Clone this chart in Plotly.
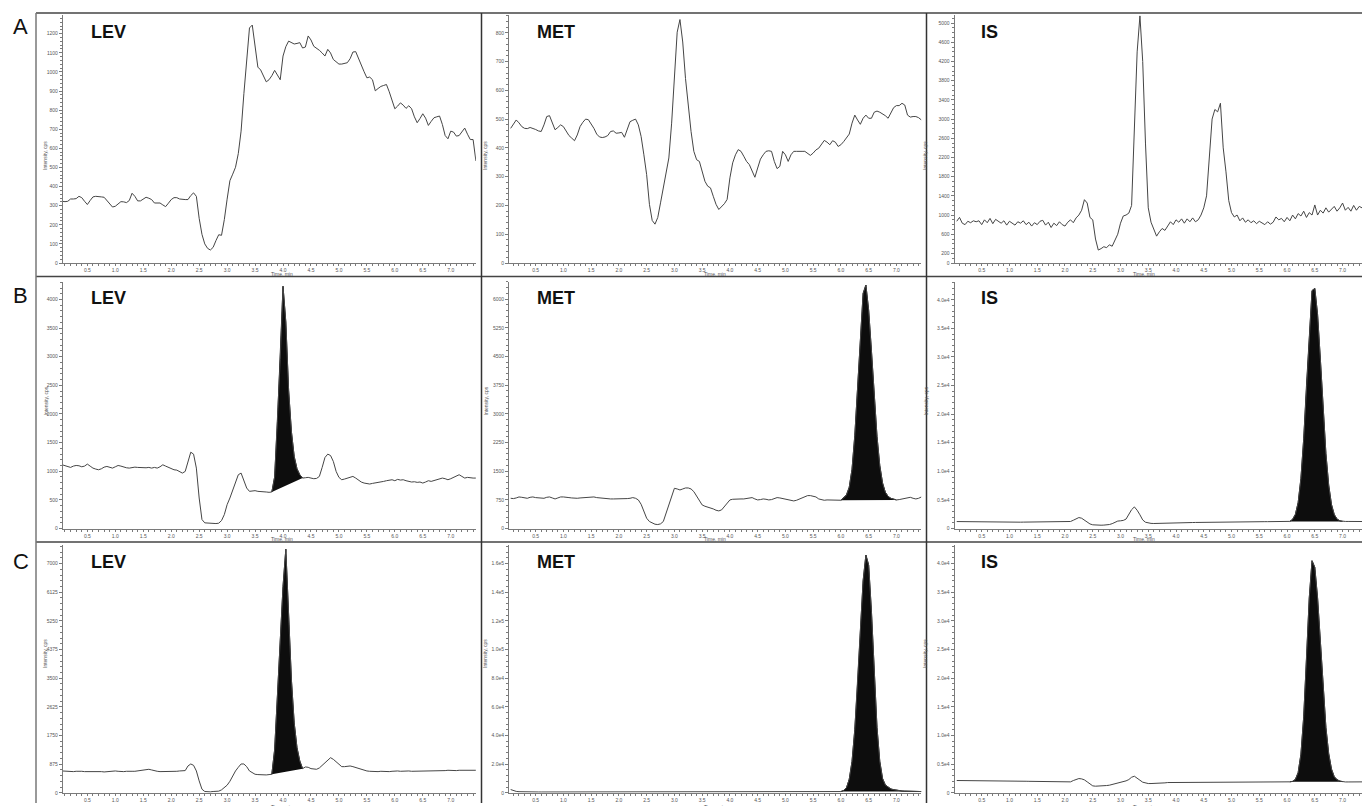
import plotly.graph_objects as go

W, H = 1362, 806

# sampling times (min)
TIME = [round(0.05 * i, 2) for i in range(1, 150)]

# ---------------- Row A (blank) ----------------
A_LEV = [323, 321, 323, 335, 335, 337, 349, 342, 323, 306,
         327, 346, 349, 346, 346, 344, 327, 309, 293, 297,
         309, 321, 320, 316, 327, 365, 349, 325, 325, 335,
         344, 339, 332, 314, 313, 314, 304, 295, 313, 332,
         342, 342, 335, 332, 332, 332, 353, 367, 349, 234,
         150, 100, 77, 68, 82, 117, 148, 145, 227, 334,
         431, 465, 501, 573, 690, 886, 1081, 1230, 1245, 1118,
         1025, 1010, 978, 948, 959, 980, 1008, 985, 959, 1083,
         1132, 1161, 1153, 1146, 1149, 1153, 1125, 1130, 1188, 1167,
         1134, 1125, 1113, 1099, 1083, 1118, 1099, 1065, 1053, 1041,
         1041, 1044, 1048, 1069, 1104, 1106, 1069, 1034, 1001, 969,
         973, 959, 901, 913, 924, 929, 934, 896, 852, 807,
         821, 838, 826, 809, 823, 807, 765, 734, 756, 781,
         758, 720, 741, 760, 765, 769, 725, 667, 650, 690,
         685, 664, 667, 688, 706, 674, 646, 646, 534]

A_MET = [468, 482, 497, 487, 474, 468, 467, 471, 468, 464,
         459, 457, 480, 509, 512, 486, 463, 471, 480, 474,
         459, 443, 434, 425, 445, 474, 489, 500, 498, 484,
         468, 448, 438, 436, 438, 443, 457, 459, 451, 452,
         454, 437, 463, 491, 496, 500, 480, 440, 376, 307,
         204, 148, 135, 158, 209, 261, 319, 365, 486, 664,
         802, 846, 768, 641, 543, 457, 388, 359, 353, 319,
         284, 267, 261, 232, 204, 186, 197, 206, 221, 296,
         348, 376, 394, 388, 371, 353, 342, 319, 298, 330,
         361, 376, 388, 390, 388, 353, 328, 336, 388, 376,
         353, 376, 388, 388, 387, 388, 388, 382, 374, 382,
         393, 399, 413, 426, 420, 411, 425, 420, 405, 411,
         422, 436, 448, 486, 514, 497, 482, 503, 514, 503,
         503, 524, 528, 524, 519, 512, 503, 520, 540, 547,
         547, 555, 549, 514, 507, 509, 509, 505, 497]

A_IS = [870, 950, 830, 800, 870, 840, 880, 860, 880, 800,
        900, 840, 930, 820, 910, 860, 830, 880, 790, 870,
        820, 790, 860, 830, 880, 800, 850, 770, 840, 800,
        870, 890, 790, 850, 740, 830, 780, 860, 800, 770,
        850, 900, 840, 940, 1000, 1100, 1320, 1250, 950, 900,
        500, 270, 300, 340, 320, 380, 350, 460, 600, 830,
        980, 1000, 1040, 1200, 2800, 4400, 5150, 4200, 2500, 1150,
        850, 700, 560, 650, 720, 680, 760, 860, 800, 900,
        850, 920, 830, 920, 860, 940, 860, 900, 1000, 1150,
        1400, 2300, 3000, 3200, 3150, 3330, 2400, 1900, 1300, 1050,
        960, 1000, 880, 940, 850, 900, 840, 880, 820, 870,
        840, 800, 860, 810, 850, 960, 900, 930, 860, 950,
        880, 1000, 920, 1030, 980, 1080, 950, 1050, 1000, 1210,
        1000, 1100, 1040, 1150, 1060, 1120, 1180, 1080, 1150, 1250,
        1100, 1160, 1080, 1200, 1100, 1180, 1150, 1150, 1150]

# ---------------- Row B ----------------
B_LEV = [1113, 1096, 1078, 1067, 1090, 1101, 1096, 1078, 1090, 1125,
         1090, 1055, 1038, 1026, 1043, 1072, 1084, 1067, 1055, 1078,
         1101, 1090, 1072, 1061, 1055, 1067, 1072, 1067, 1061, 1055,
         1061, 1067, 1055, 1067, 1055, 1078, 1113, 1090, 1067, 1055,
         1026, 1020, 997, 968, 997, 1171, 1333, 1299, 1055, 533,
         157, 99, 93, 87, 81, 87, 93, 139, 243, 417,
         533, 678, 823, 939, 968, 835, 707, 649, 661, 661,
         649, 649, 643, 638, 632, 638, 900, 1867, 2950, 4230,
         3606, 2417, 1693, 1258, 1043, 939, 881, 887, 893, 881,
         870, 875, 910, 1067, 1240, 1299, 1275, 1171, 997, 893,
         852, 864, 881, 904, 910, 881, 846, 812, 794, 783,
         777, 788, 794, 806, 817, 823, 835, 846, 852, 835,
         858, 846, 852, 835, 823, 812, 817, 806, 812, 794,
         812, 835, 823, 835, 852, 864, 881, 870, 852, 870,
         893, 928, 939, 910, 881, 893, 881, 881, 881]

B_MET = [791, 783, 800, 826, 817, 800, 791, 817, 826, 809,
         800, 791, 791, 817, 826, 800, 774, 800, 826, 826,
         826, 809, 800, 791, 791, 800, 809, 809, 809, 817,
         826, 809, 800, 791, 783, 774, 774, 774, 774, 774,
         765, 765, 783, 791, 809, 791, 748, 635, 443, 270,
         183, 139, 113, 104, 122, 183, 400, 617, 861, 1052,
         1035, 1009, 1035, 1061, 1061, 1035, 965, 843, 704, 617,
         583, 565, 539, 513, 478, 461, 487, 574, 687, 748,
         765, 774, 774, 774, 774, 783, 800, 809, 774, 748,
         757, 774, 765, 748, 757, 791, 809, 800, 783, 765,
         757, 739, 722, 739, 765, 800, 835, 861, 861, 852,
         826, 774, 748, 739, 748, 748, 748, 748, 739, 740,
         800, 880, 1080, 1550, 2430, 3740, 5180, 6150, 6370, 5710,
         4650, 3460, 2410, 1650, 1190, 950, 840, 790, 760, 748,
         757, 774, 783, 800, 817, 791, 774, 791, 826]

B_IS = [1220, 1210, 1200, 1190, 1190, 1180, 1180, 1170, 1170, 1160,
        1160, 1150, 1150, 1140, 1140, 1130, 1130, 1120, 1110, 1100,
        1100, 1100, 1110, 1110, 1120, 1120, 1130, 1130, 1140, 1140,
        1150, 1150, 1160, 1160, 1170, 1170, 1180, 1180, 1190, 1200,
        1210, 1230, 1450, 1750, 1920, 1800, 1450, 1050, 800, 650,
        600, 580, 580, 600, 620, 700, 850, 1150, 1300, 1350,
        1420, 1650, 2450, 3300, 3780, 3200, 2400, 1500, 1100, 950,
        900, 880, 900, 920, 940, 950, 960, 970, 980, 990,
        1000, 1010, 1020, 1030, 1040, 1050, 1060, 1070, 1080, 1090,
        1100, 1100, 1110, 1110, 1120, 1120, 1130, 1130, 1140, 1140,
        1150, 1150, 1160, 1160, 1170, 1170, 1180, 1180, 1190, 1190,
        1200, 1200, 1200, 1210, 1210, 1210, 1220, 1220, 1220, 1230,
        1250, 1600, 2470, 4530, 8760, 15700, 25000, 34600, 41600, 42000,
        37400, 29600, 20800, 13100, 7600, 4200, 2450, 1650, 1350, 1250,
        1240, 1240, 1230, 1230, 1230, 1220, 1220, 1220, 1220]

# ---------------- Row C ----------------
C_LEV = [668, 658, 648, 638, 648, 658, 668, 658, 648, 648,
         658, 668, 668, 658, 648, 638, 648, 658, 668, 668,
         658, 648, 648, 658, 668, 658, 658, 668, 679, 689,
         709, 719, 699, 668, 658, 648, 648, 638, 638, 648,
         658, 658, 668, 668, 679, 820, 881, 840, 668, 365,
         111, 41, 30, 30, 41, 41, 51, 91, 172, 233,
         354, 516, 668, 780, 881, 881, 800, 668, 608, 567,
         557, 547, 537, 547, 557, 567, 1316, 2967, 4618, 6300,
         7440, 5378, 3453, 2137, 1377, 972, 739, 790, 780, 739,
         719, 719, 760, 840, 942, 1023, 1073, 1023, 942, 861,
         800, 800, 810, 820, 800, 770, 739, 709, 689, 668,
         658, 648, 638, 648, 658, 648, 638, 648, 658, 668,
         668, 658, 668, 679, 668, 658, 658, 668, 679, 668,
         658, 668, 679, 668, 668, 679, 668, 679, 689, 679,
         668, 679, 689, 689, 689, 689, 689, 689, 689]

C_MET = [2300, 1600, 1000, 800, 700, 650, 620, 600, 600, 600,
         600, 590, 590, 600, 600, 590, 590, 600, 600, 590,
         590, 600, 600, 590, 590, 600, 600, 590, 590, 600,
         600, 600, 590, 590, 600, 600, 610, 610, 600, 600,
         600, 610, 610, 620, 620, 610, 600, 580, 560, 540,
         530, 520, 520, 530, 540, 560, 580, 600, 610, 620,
         630, 640, 630, 620, 610, 600, 590, 580, 580, 580,
         580, 580, 580, 580, 590, 590, 590, 590, 600, 600,
         600, 600, 600, 600, 600, 600, 600, 600, 600, 600,
         600, 600, 600, 600, 600, 600, 610, 610, 610, 610,
         610, 610, 610, 610, 610, 610, 610, 610, 600, 600,
         600, 600, 610, 620, 620, 630, 640, 650, 680, 900,
         1700, 3500, 9500, 21900, 44100, 76400, 114000, 148000, 166000, 159000,
         126600, 83500, 45600, 22000, 10000, 5500, 3800, 2700, 2200, 1800,
         1500, 1300, 1200, 1100, 1000, 1000, 900, 900, 900]

C_IS = [2150, 2150, 2140, 2140, 2130, 2130, 2120, 2120, 2110, 2110,
        2100, 2100, 2090, 2090, 2080, 2080, 2070, 2070, 2060, 2060,
        2050, 2050, 2040, 2040, 2030, 2020, 2010, 2000, 1990, 1980,
        1970, 1960, 1950, 1940, 1930, 1920, 1920, 1910, 1910, 1910,
        1910, 1913, 2145, 2377, 2493, 2435, 2261, 1913, 1507, 1217,
        1159, 1159, 1217, 1217, 1275, 1333, 1449, 1565, 1681, 1797,
        1913, 2087, 2319, 2725, 2899, 2609, 2203, 1855, 1681, 1623,
        1623, 1623, 1681, 1681, 1739, 1739, 1797, 1797, 1810, 1820,
        1830, 1840, 1850, 1850, 1855, 1855, 1855, 1855, 1855, 1850,
        1850, 1850, 1845, 1845, 1840, 1840, 1840, 1840, 1840, 1840,
        1840, 1840, 1840, 1845, 1845, 1850, 1850, 1850, 1855, 1855,
        1855, 1860, 1860, 1860, 1865, 1865, 1870, 1870, 1880, 1900,
        1920, 2000, 2340, 3530, 6740, 13300, 23300, 34000, 40500, 39350,
        34000, 26200, 18100, 11400, 6850, 4150, 2810, 2300, 2050, 1950,
        1900, 1900, 1900, 1910, 1910, 1920, 1920, 1920, 1920]

# integration windows (min) of the shaded peaks
FILL_WINDOWS = {
    "B_LEV": (3.80, 4.35), "B_MET": (6.00, 7.00), "B_IS": (6.05, 7.00),
    "C_LEV": (3.80, 4.35), "C_MET": (6.00, 7.45), "C_IS": (6.05, 7.00),
}

# tick labels
X_TICKS = [0.5, 1.0, 1.5, 2.0, 2.5, 3.0, 3.5, 4.0, 4.5, 5.0, 5.5, 6.0, 6.5, 7.0]
X_TICKTEXT = ["0.5", "1.0", "1.5", "2.0", "2.5", "3.0", "3.5", "4.0", "4.5",
              "5.0", "5.5", "6.0", "6.5", "7.0"]
A_LEV_TICKS = [0, 100, 200, 300, 400, 500, 600, 700, 800, 900, 1000, 1100, 1200]
A_MET_TICKS = [0, 100, 200, 300, 400, 500, 600, 700, 800]
A_IS_TICKS = [0, 200, 600, 1000, 1400, 1800, 2200, 2600, 3000, 3400, 3800, 4200, 4600, 5000]
B_LEV_TICKS = [0, 500, 1000, 1500, 2000, 2500, 3000, 3500, 4000]
B_MET_TICKS = [0, 750, 1500, 2250, 3000, 3750, 4500, 5250, 6000]
IS_TICKS = [0, 5000, 10000, 15000, 20000, 25000, 30000, 35000, 40000]
IS_TICKTEXT = ["0", "0.5e4", "1.0e4", "1.5e4", "2.0e4", "2.5e4", "3.0e4", "3.5e4", "4.0e4"]
C_LEV_TICKS = [0, 875, 1750, 2625, 3500, 4375, 5250, 6125, 7000]
C_MET_TICKS = [0, 20000, 40000, 60000, 80000, 100000, 120000, 140000, 160000]
C_MET_TICKTEXT = ["0", "2.0e4", "4.0e4", "6.0e4", "8.0e4", "1.0e5", "1.2e5", "1.4e5", "1.6e5"]

ROW_LETTERS = ["A", "B", "C"]
ANALYTES = ["LEV", "MET", "IS"]

# ---------------- layout geometry (pixels) ----------------
def px_x(x):
    return x / W

def px_y(y):
    return 1 - y / H

col_dom = [(62.75, 475.9), (509.0, 921.4), (954.5, 1362.0)]
col_xrange = [(0.06, 7.45), (0.02, 7.45), (0.01, 7.35)]
row_dom = [(15.0, 264.0), (282.7, 530.5), (547.3, 795.8)]

panels = [
    # row, col, key, data, ymax, tickvals, ticktext, minor dtick
    (0, 0, "A_LEV", A_LEV, 1298, A_LEV_TICKS, [str(v) for v in A_LEV_TICKS], 20),
    (0, 1, "A_MET", A_MET, 862, A_MET_TICKS, [str(v) for v in A_MET_TICKS], 20),
    (0, 2, "A_IS", A_IS, 5170, A_IS_TICKS, [str(v) for v in A_IS_TICKS], 100),
    (1, 0, "B_LEV", B_LEV, 4311, B_LEV_TICKS, [str(v) for v in B_LEV_TICKS], 100),
    (1, 1, "B_MET", B_MET, 6458, B_MET_TICKS, [str(v) for v in B_MET_TICKS], 150),
    (1, 2, "B_IS", B_IS, 43170, IS_TICKS, IS_TICKTEXT, 1000),
    (2, 0, "C_LEV", C_LEV, 7560, C_LEV_TICKS, [str(v) for v in C_LEV_TICKS], 175),
    (2, 1, "C_MET", C_MET, 172800, C_MET_TICKS, C_MET_TICKTEXT, 4000),
    (2, 2, "C_IS", C_IS, 43200, IS_TICKS, IS_TICKTEXT, 1000),
]

AX_COLOR = "#7a7a7a"
LBL_COLOR = "#555555"
TRACE_COLOR = "#454545"
FONT = "Liberation Sans, Arial, sans-serif"

fig = go.Figure()
layout = {}
annotations = []

for k, (r, c, key, data, ymax, tv, tt, mdt) in enumerate(panels, start=1):
    n = min(len(TIME), len(data))
    xs, ys = TIME[:n], data[:n]
    xa = "x" if k == 1 else f"x{k}"
    ya = "y" if k == 1 else f"y{k}"
    if key in FILL_WINDOWS:
        t0, t1 = FILL_WINDOWS[key]
        idx = [i for i in range(n) if t0 - 1e-9 <= xs[i] <= t1 + 1e-9]
        fig.add_trace(go.Scatter(
            x=[xs[i] for i in idx], y=[ys[i] for i in idx],
            mode="lines", fill="toself", fillcolor="#0d0d0d",
            line=dict(color="#0d0d0d", width=1), xaxis=xa, yaxis=ya,
            hoverinfo="skip"))
    fig.add_trace(go.Scatter(
        x=xs, y=ys, mode="lines", line=dict(color=TRACE_COLOR, width=1),
        xaxis=xa, yaxis=ya, hoverinfo="skip"))

    xd = col_dom[c]
    yd = row_dom[r]
    common = dict(
        showline=True, linecolor=AX_COLOR, linewidth=1, showgrid=False,
        zeroline=False, ticks="outside", tickwidth=1,
        tickcolor=AX_COLOR, tickfont=dict(size=5, color=LBL_COLOR, family=FONT),
        fixedrange=True,
    )
    layout["xaxis" if k == 1 else f"xaxis{k}"] = dict(
        common, domain=[px_x(xd[0]), px_x(xd[1])], range=list(col_xrange[c]),
        anchor=ya, tickmode="array", tickvals=X_TICKS, ticktext=X_TICKTEXT,
        ticklen=2,
        minor=dict(tickmode="linear", tick0=0, dtick=0.1, ticks="outside",
                   ticklen=2, tickcolor=AX_COLOR),
    )
    layout["yaxis" if k == 1 else f"yaxis{k}"] = dict(
        common, domain=[px_y(yd[1]), px_y(yd[0])], range=[0, ymax],
        anchor=xa, tickmode="array", tickvals=tv, ticktext=tt, ticklen=3,
        minor=dict(tickmode="linear", tick0=0, dtick=mdt, ticks="outside",
                   ticklen=2, tickcolor=AX_COLOR),
    )

# axis titles
ytitle_x = [40, 485, 930]
ytitle_y = [140, 403, 673]
xtitle_y = [275.5, 541.5, 804.5]
xtitle_anchor = ["middle", "middle", "top"]
for r in range(3):
    for c in range(3):
        annotations.append(dict(
            x=px_x(ytitle_x[c]), y=px_y(ytitle_y[r]), xref="paper", yref="paper",
            text="Intensity, cps", textangle=-90, showarrow=False,
            font=dict(size=5, color=LBL_COLOR, family=FONT)))
        cx = (col_dom[c][0] + col_dom[c][1]) / 2
        if c == 2:
            cx = 1157
        annotations.append(dict(
            x=px_x(cx), y=px_y(xtitle_y[r]), xref="paper", yref="paper",
            text="Time, min", showarrow=False, yanchor=xtitle_anchor[r],
            font=dict(size=5, color=LBL_COLOR, family=FONT)))

# analyte labels and row letters
lbl_x = [89, 535, 979]
lbl_y = [32, 299, 564.5]
letter_y = [27, 297, 564]
for r in range(3):
    annotations.append(dict(
        x=px_x(11), y=px_y(letter_y[r]), xref="paper", yref="paper",
        xanchor="left", yanchor="middle", text=ROW_LETTERS[r], showarrow=False,
        font=dict(size=22, color="#111111", family=FONT)))
    for c in range(3):
        annotations.append(dict(
            x=px_x(lbl_x[c]), y=px_y(lbl_y[r]), xref="paper", yref="paper",
            xanchor="left", yanchor="middle", text=f"<b>{ANALYTES[c]}</b>",
            showarrow=False, font=dict(size=18, color="#111111", family=FONT)))

# panel frame lines
shapes = []
for yy in [13, 277.5, 544]:
    shapes.append(dict(type="line", xref="paper", yref="paper",
                       x0=px_x(36), x1=1.0, y0=px_y(yy), y1=px_y(yy),
                       line=dict(color="#444444", width=1.5)))
for xx in [36, 481.5, 926.5]:
    shapes.append(dict(type="line", xref="paper", yref="paper",
                       x0=px_x(xx), x1=px_x(xx), y0=px_y(13), y1=0.0,
                       line=dict(color="#333333" if xx > 40 else "#777777", width=1.5)))

fig.update_layout(
    width=W, height=H, margin=dict(l=0, r=0, t=0, b=0),
    paper_bgcolor="white", plot_bgcolor="white", showlegend=False,
    annotations=annotations, shapes=shapes, hovermode=False,
    **layout,
)

fig.write_html(
    "out.html",
    config={"displayModeBar": False, "staticPlot": True},
    post_script="document.body.style.margin='0';document.body.style.padding='0';"
                "document.documentElement.style.overflow='hidden';",
)
